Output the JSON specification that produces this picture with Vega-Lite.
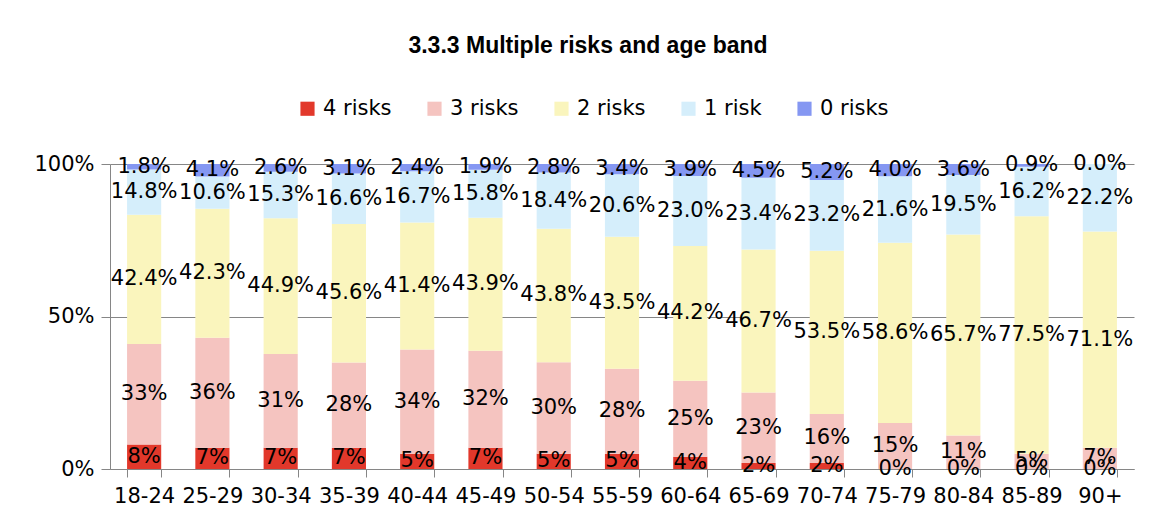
{
  "$schema": "https://vega.github.io/schema/vega-lite/v6.json",
  "autosize": {"type": "none"},
  "width": 1024,
  "height": 305,
  "padding": {"left": 110, "top": 164, "right": 23, "bottom": 61},
  "background": "white",
  "title": {
    "text": "3.3.3 Multiple risks and age band",
    "anchor": "middle",
    "frame": "group",
    "font": "Liberation Sans",
    "fontWeight": "bold",
    "fontSize": 23,
    "color": "#000000",
    "dx": -34,
    "offset": 40
  },
  "data": {
    "values": [
      {"age": "18-24", "4 risks": 8, "3 risks": 33, "2 risks": 42.4, "1 risk": 14.8, "0 risks": 1.8},
      {"age": "25-29", "4 risks": 7, "3 risks": 36, "2 risks": 42.3, "1 risk": 10.6, "0 risks": 4.1},
      {"age": "30-34", "4 risks": 7, "3 risks": 31, "2 risks": 44.9, "1 risk": 15.3, "0 risks": 2.6},
      {"age": "35-39", "4 risks": 7, "3 risks": 28, "2 risks": 45.6, "1 risk": 16.6, "0 risks": 3.1},
      {"age": "40-44", "4 risks": 5, "3 risks": 34, "2 risks": 41.4, "1 risk": 16.7, "0 risks": 2.4},
      {"age": "45-49", "4 risks": 7, "3 risks": 32, "2 risks": 43.9, "1 risk": 15.8, "0 risks": 1.9},
      {"age": "50-54", "4 risks": 5, "3 risks": 30, "2 risks": 43.8, "1 risk": 18.4, "0 risks": 2.8},
      {"age": "55-59", "4 risks": 5, "3 risks": 28, "2 risks": 43.5, "1 risk": 20.6, "0 risks": 3.4},
      {"age": "60-64", "4 risks": 4, "3 risks": 25, "2 risks": 44.2, "1 risk": 23.0, "0 risks": 3.9},
      {"age": "65-69", "4 risks": 2, "3 risks": 23, "2 risks": 46.7, "1 risk": 23.4, "0 risks": 4.5},
      {"age": "70-74", "4 risks": 2, "3 risks": 16, "2 risks": 53.5, "1 risk": 23.2, "0 risks": 5.2},
      {"age": "75-79", "4 risks": 0, "3 risks": 15, "2 risks": 58.6, "1 risk": 21.6, "0 risks": 4.0},
      {"age": "80-84", "4 risks": 0, "3 risks": 11, "2 risks": 65.7, "1 risk": 19.5, "0 risks": 3.6},
      {"age": "85-89", "4 risks": 0, "3 risks": 5, "2 risks": 77.5, "1 risk": 16.2, "0 risks": 0.9},
      {"age": "90+", "4 risks": 0, "3 risks": 7, "2 risks": 71.1, "1 risk": 22.2, "0 risks": 0.0}
    ]
  },
  "transform": [
    {"fold": ["4 risks", "3 risks", "2 risks", "1 risk", "0 risks"], "as": ["risk", "value"]},
    {"stack": "value", "groupby": ["age"], "sort": [{"field": "risk", "order": "descending"}], "offset": "normalize", "as": ["lo", "hi"]},
    {"calculate": "(datum.lo + datum.hi) / 2", "as": "mid"},
    {"calculate": "(datum.risk == '4 risks' || datum.risk == '3 risks') ? format(datum.value, '.0f') + '%' : format(datum.value, '.1f') + '%'", "as": "label"}
  ],
  "encoding": {
    "x": {
      "field": "age",
      "type": "nominal",
      "sort": null,
      "title": null,
      "scale": {"paddingInner": 0.5, "paddingOuter": 0.25},
      "axis": {
        "labelAngle": 0,
        "labelFont": "DejaVu Sans",
        "labelFontSize": 21,
        "labelColor": "#000000",
        "labelPadding": 8,
        "tickBand": "extent",
        "tickSize": 8,
        "tickColor": "#868686",
        "domainColor": "#868686",
        "grid": false
      }
    }
  },
  "layer": [
    {
      "mark": {"type": "bar"},
      "encoding": {
        "y": {
          "field": "lo",
          "type": "quantitative",
          "title": null,
          "scale": {"domain": [0, 1], "nice": false},
          "axis": {
            "values": [0, 0.5, 1],
            "format": ".0%",
            "labelFont": "DejaVu Sans",
            "labelFontSize": 21,
            "labelColor": "#000000",
            "labelPadding": 7,
            "tickSize": 9,
            "tickColor": "#868686",
            "domainColor": "#868686",
            "gridColor": "#868686",
            "gridOpacity": 1
          }
        },
        "y2": {"field": "hi"},
        "color": {
          "field": "risk",
          "type": "nominal",
          "scale": {
            "domain": ["4 risks", "3 risks", "2 risks", "1 risk", "0 risks"],
            "range": ["#E2382B", "#F5C4C0", "#FAF5BD", "#D5EEFB", "#8597F2"]
          },
          "legend": {
            "title": null,
            "orient": "none",
            "direction": "horizontal",
            "legendX": 187,
            "legendY": -66,
            "symbolType": "square",
            "symbolSize": 200,
            "symbolStrokeWidth": 0,
            "labelFont": "DejaVu Sans",
            "labelFontSize": 21,
            "labelColor": "#000000",
            "labelOffset": 5,
            "columnPadding": 32
          }
        }
      }
    },
    {
      "mark": {"type": "text", "font": "DejaVu Sans", "fontSize": 21, "color": "#000000", "baseline": "middle"},
      "encoding": {
        "y": {"field": "mid", "type": "quantitative"},
        "text": {"field": "label"}
      }
    }
  ],
  "config": {
    "view": {"stroke": null}
  }
}
